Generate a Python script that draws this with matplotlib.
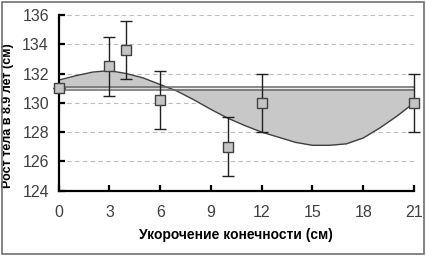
import matplotlib.pyplot as plt
from matplotlib.patches import Rectangle

plt.rcParams['font.family'] = ['Liberation Sans', 'DejaVu Sans']

# measured points with error bars
pt_x = [0, 3, 4, 6, 10, 12, 21]
pt_y = [131.0, 132.5, 133.6, 130.2, 127.0, 130.0, 130.0]
pt_err = [0.0, 2.0, 2.0, 2.0, 2.0, 2.0, 2.0]

# smoothed curve
curve_x = [0, 1, 2, 3, 4, 5, 6, 7, 8, 9, 10, 11, 12, 13, 14, 15, 16, 17, 18, 19, 20, 21]
curve_y = [131.55, 131.85, 132.1, 132.2, 132.0, 131.7, 131.25, 130.8, 130.2, 129.55, 128.95,
           128.45, 128.0, 127.65, 127.3, 127.1, 127.1, 127.2, 127.6, 128.3, 129.1, 130.0]

baseline = 131.0
xticks = [0, 3, 6, 9, 12, 15, 18, 21]
yticks = [124, 126, 128, 130, 132, 134, 136]

fig = plt.figure(figsize=(4.26, 2.56), dpi=100)
ax = fig.add_axes([0.1378, 0.2551, 0.834, 0.6863])

# figure frame
fig.patches.append(Rectangle((0.004, 0.006), 0.991, 0.988, transform=fig.transFigure,
                             fill=False, edgecolor='#707070', linewidth=1.2))

for v in yticks[1:]:
    ax.axhline(v, color='#bdbdbd', linestyle=(0, (4, 3)), linewidth=0.8, zorder=0)

ax.fill_between(curve_x, curve_y, baseline, color='#c8c8c8', zorder=1, linewidth=0)
ax.plot(curve_x, curve_y, color='#404040', linewidth=1.0, zorder=2)

ax.axhline(baseline + 0.09, color='#6a6a6a', linewidth=1.1, zorder=3)
ax.axhline(baseline - 0.09, color='#6a6a6a', linewidth=1.1, zorder=3)

ax.errorbar(pt_x, pt_y, yerr=pt_err, fmt='none', ecolor='#202020', elinewidth=1.0,
            capsize=4, capthick=1.0, zorder=4, clip_on=False)
ax.plot(pt_x, pt_y, 's', markersize=7, markerfacecolor='#c4c4c4', markeredgecolor='#404040',
        markeredgewidth=1.0, zorder=5, clip_on=False, linestyle='none')

ax.set_xlim(0, 21)
ax.set_ylim(124, 136)
ax.set_xticks(xticks)
ax.set_yticks(yticks)

for s in ['top', 'right']:
    ax.spines[s].set_visible(False)
for s in ['left', 'bottom']:
    ax.spines[s].set_linewidth(1.6)
    ax.spines[s].set_color('black')

ax.tick_params(axis='both', direction='in', length=4.5, width=1.6, labelsize=11.5,
               labelcolor='#404040')
ax.tick_params(axis='x', pad=10)
ax.tick_params(axis='y', pad=7)

ax.set_xlabel('Укорочение конечности (см)', fontsize=10, fontweight='bold', labelpad=6)
ax.set_ylabel('Рост тела в 8.9 лет (см)', fontsize=9, fontweight='bold')
ax.yaxis.set_label_coords(-0.125, 0.43)

fig.savefig('out.png', dpi=100)
